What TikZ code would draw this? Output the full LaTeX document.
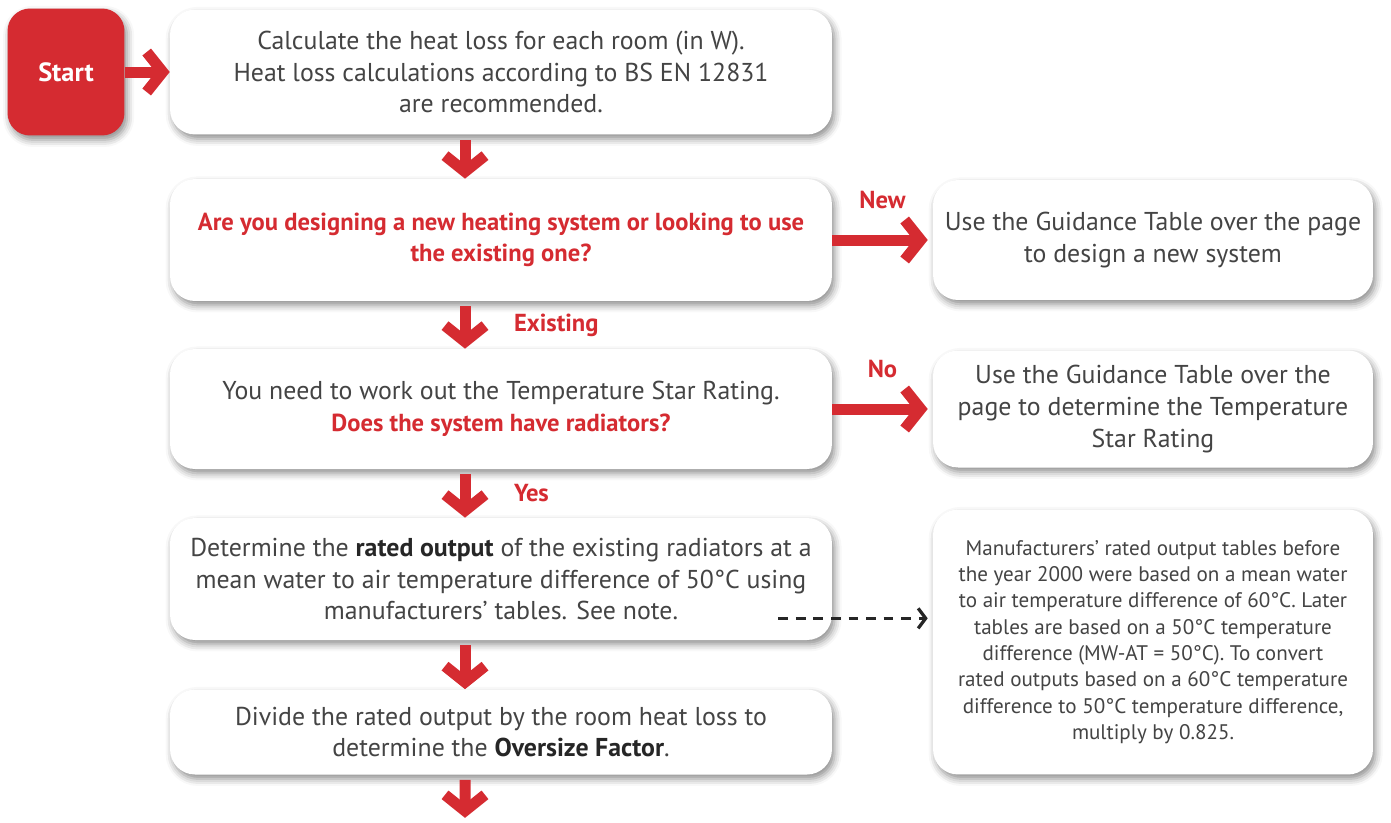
\documentclass[tikz,border=0pt]{standalone}
\usepackage{fontspec}
\setmainfont{PT Sans}
\usetikzlibrary{arrows.meta,calc,shadows.blur}
\definecolor{hred}{HTML}{D52B31}
\definecolor{htext}{HTML}{444444}

\begin{document}
\begin{tikzpicture}[
      x=0.02cm, y=-0.02cm,
      stage/.style={fill=white, rounded corners=0.5cm, align=center, text=htext,
                    font=\fontsize{14.7}{18}\selectfont,
                    minimum width=13.24cm, minimum height=2.44cm,
                    blur shadow={shadow xshift=1.5pt, shadow yshift=-2.5pt,
                                 shadow blur radius=4pt, shadow opacity=45}},
      aside/.style={stage, minimum width=8.8cm},
      ask/.style={text=hred, font=\fontsize{14}{18}\selectfont\bfseries},
      flow/.style={draw=hred, line width=0.22cm,
                   -{Straight Barb[sharp, length=0.32cm, width=0.8cm]}},
      hint/.style={draw=black!85, line width=0.065cm, dash pattern=on 5.5pt off 4.5pt,
                   -{Straight Barb[sharp, length=0.15cm, width=0.4cm]}},
      lbl/.style={text=hred, font=\fontsize{14}{18}\selectfont\bfseries, inner sep=2pt}
    ]
    \useasboundingbox (0,0) rectangle (1391,822);

    \node[stage, fill=hred, text=white, font=\fontsize{15}{18}\selectfont\bfseries,
          minimum width=2.34cm, minimum height=2.54cm, rounded corners=0.45cm]
          (start) at (66,72) {Start};
    \node[stage, minimum height=2.5cm] (hl) at (501,72)
          {Calculate the heat loss for each room (in W).\\
           Heat loss calculations according to BS EN 12831\\
           are recommended.};
    \node[stage, ask] (sys) at (501,240)
          {Are you designing a new heating system or looking to use\\
           the existing one?};
    \node[aside, minimum height=2.4cm] (gnew) at (1153,240)
          {Use the Guidance Table over the page\\ to design a new system};
    \node[stage, minimum height=2.4cm] (star) at (501,409)
          {You need to work out the Temperature Star Rating.\\
           \textcolor{hred}{\fontsize{14}{18}\selectfont\bfseries Does the system have radiators?}};
    \node[aside, minimum height=2.34cm] (gstar) at (1153,409)
          {Use the Guidance Table over the\\ page to determine the Temperature\\ Star Rating};
    \node[stage] (rad) at (501,579)
          {Determine the \textbf{\textcolor{black!85}{rated output}} of the existing radiators at a\\
           mean water to air temperature difference of 50°C using\\
           manufacturers’ tables. See note.};
    \node[aside, minimum height=5.3cm, font=\fontsize{12}{15}\selectfont] (note) at (1153,642)
          {Manufacturers’ rated output tables before\\
           the year 2000 were based on a mean water\\
           to air temperature difference of 60°C. Later\\
           tables are based on a 50°C temperature\\
           difference (MW-AT = 50°C). To convert\\
           rated outputs based on a 60°C temperature\\
           difference to 50°C temperature difference,\\
           multiply by 0.825.};
    \node[stage, minimum height=1.7cm] (osf) at (501,732)
          {Divide the rated output by the room heat loss to\\
           determine the \textbf{\textcolor{black!85}{Oversize Factor}}.};
    \coordinate (next) at ($(osf.south)+(-36,43)$);
    \coordinate (nt) at ($(rad.south east)+(-54,-22)$);

    \draw[flow] (start) -- (hl);
    \draw[flow, shorten <=0.1cm] ([xshift=-0.72cm]hl.south) -- ([xshift=-0.72cm]sys.north);
    \draw[flow, shorten >=0.1cm] (sys.east) -- (gnew.west) node[lbl, midway, above=0.45cm] {New};
    \draw[flow, shorten <=0.1cm] ([xshift=-0.72cm]sys.south) -- ([xshift=-0.72cm]star.north)
          node[lbl, midway, right=0.8cm] {Existing};
    \draw[flow, shorten >=0.1cm] (star.east) -- (gstar.west) node[lbl, midway, above=0.45cm] {No};
    \draw[flow, shorten <=0.1cm] ([xshift=-0.72cm]star.south) -- ([xshift=-0.72cm]rad.north)
          node[lbl, midway, right=0.8cm] {Yes};
    \draw[flow, shorten <=0.1cm] ([xshift=-0.72cm]rad.south) -- ([xshift=-0.72cm]osf.north);
    \draw[flow, shorten <=0.1cm] ([xshift=-0.72cm]osf.south) -- (next);
    \draw[hint, shorten >=0.1cm] (nt) -- (nt -| note.west);
  \end{tikzpicture}
\end{document}
